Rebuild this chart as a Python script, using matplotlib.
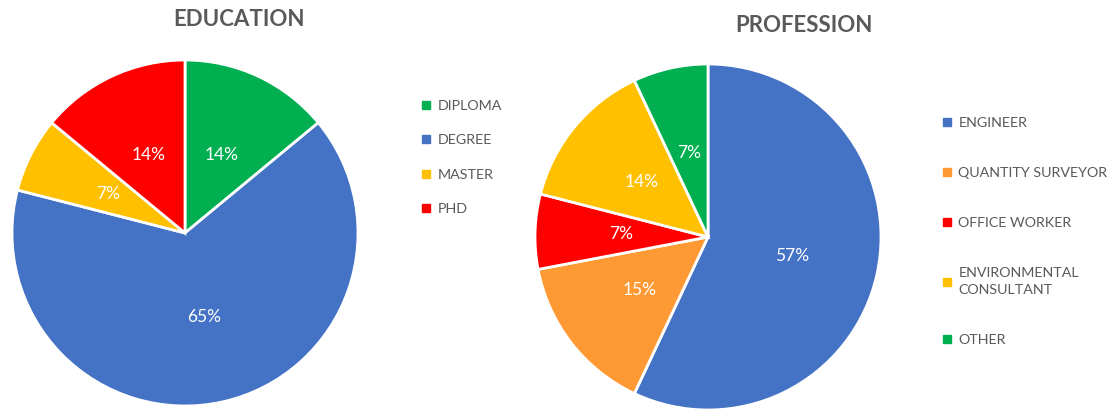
import matplotlib.pyplot as plt
from matplotlib.lines import Line2D

# datos de los graficos
edu_labels = ["DIPLOMA", "DEGREE", "MASTER", "PHD"]
edu_values = [14, 65, 7, 14]
edu_colors = ["#00B050", "#4472C4", "#FFC000", "#FF0000"]

prof_labels = ["ENGINEER", "QUANTITY SURVEYOR", "OFFICE WORKER",
               "ENVIRONMENTAL\nCONSULTANT", "OTHER"]
prof_values = [57, 15, 7, 14, 7]
prof_colors = ["#4472C4", "#FF9933", "#FF0000", "#FFC000", "#00B050"]

plt.rcParams['font.family'] = ['Lato', 'DejaVu Sans']
gris = "#595959"

W, H = 1115, 409
fig = plt.figure(figsize=(W / 100, H / 100), dpi=100)


def dibujar_pie(cx, cy, r, valores, colores, etiquetas, titulo, tx, ty, lx, ly, lsp):
    ax = fig.add_axes([(cx - r) / W, (H - cy - r) / H, 2 * r / W, 2 * r / H])
    ax.pie(valores, colors=colores, startangle=90, counterclock=False,
           autopct='%.0f%%', pctdistance=0.5,
           wedgeprops=dict(edgecolor="white", linewidth=2),
           textprops=dict(color="white", fontsize=12.5))
    ax.set_xlim(-1.0, 1.0)
    ax.set_ylim(-1.0, 1.0)
    ax.axis("off")
    fig.text(tx / W, 1 - ty / H, titulo, fontsize=16, fontweight="bold",
             color=gris, ha="center", va="center")
    handles = [Line2D([], [], marker="s", linestyle="", markersize=6,
                      markerfacecolor=c, markeredgecolor=c) for c in colores]
    leg = fig.legend(handles, etiquetas, loc="upper left",
                     bbox_to_anchor=(lx / W, 1 - ly / H), frameon=False,
                     fontsize=10.3, labelcolor=gris, labelspacing=lsp,
                     handlelength=0.8, handletextpad=0.4, borderpad=0)
    for t in leg.get_texts():
        t.set_linespacing(1.55)
    return ax


dibujar_pie(185, 233, 173, edu_values, edu_colors, edu_labels,
            "EDUCATION", 239, 20, 413, 93, 1.55)
dibujar_pie(708, 237, 173, prof_values, prof_colors, prof_labels,
            "PROFESSION", 804, 25, 934, 110, 2.65)

fig.savefig("out.png", dpi=100)
